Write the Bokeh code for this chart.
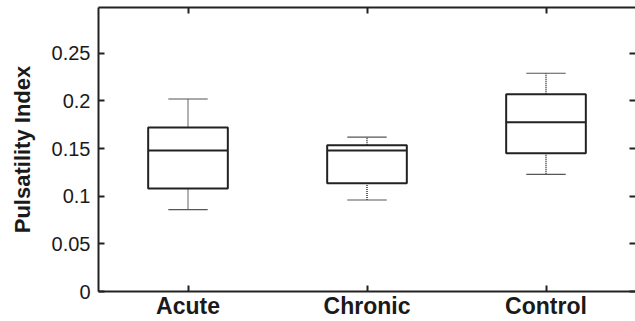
from bokeh.plotting import figure
from bokeh.models import FixedTicker, LinearAxis, Range1d, ColumnDataSource
from bokeh.embed import file_html
from bokeh.resources import INLINE

categories = ["Acute", "Chronic", "Control"]
lower_whisker = [0.086, 0.096, 0.123]
q1 = [0.108, 0.1135, 0.145]
median = [0.148, 0.148, 0.1775]
q3 = [0.172, 0.1535, 0.207]
upper_whisker = [0.202, 0.162, 0.229]
y_ticks = [0, 0.05, 0.1, 0.15, 0.2, 0.25]

xs = list(range(1, len(categories) + 1))
box_w = 0.445
cap_w = 0.22

src = ColumnDataSource(dict(
    x=xs, lo=lower_whisker, q1=q1, med=median, q3=q3, hi=upper_whisker,
    bl=[x - box_w / 2 for x in xs], br=[x + box_w / 2 for x in xs],
    cl=[x - cap_w / 2 for x in xs], cr=[x + cap_w / 2 for x in xs],
))

p = figure(width=635, height=321, output_backend="svg", toolbar_location=None,
           x_range=Range1d(0.5, 3.5), y_range=Range1d(0, 0.298),
           min_border_left=98, min_border_right=0, min_border_top=7, min_border_bottom=28,
           x_axis_location=None, y_axis_location=None)
p.outline_line_color = None
p.xgrid.visible = False
p.ygrid.visible = False
p.background_fill_color = "white"
p.border_fill_color = "white"

FONT = "Liberation Sans"

def style(ax):
    ax.axis_line_color = "#222222"
    ax.axis_line_width = 2
    ax.major_tick_line_color = "#222222"
    ax.major_tick_line_width = 2
    ax.major_tick_in = 6
    ax.major_tick_out = 0
    ax.minor_tick_line_color = None
    ax.major_label_text_font = FONT
    ax.major_label_text_color = "#1a1a1a"
    ax.axis_label_text_font = FONT
    ax.axis_label_text_color = "#1a1a1a"

left = LinearAxis(ticker=FixedTicker(ticks=y_ticks))
style(left)
left.major_label_overrides = {0: "0"}
left.major_label_text_font_size = "20px"
left.major_label_standoff = 8
left.axis_label = "Pulsatility Index"
left.axis_label_text_font_style = "bold"
left.axis_label_text_font_size = "22px"
left.axis_label_standoff = 14
p.add_layout(left, "left")

right = LinearAxis(ticker=FixedTicker(ticks=y_ticks))
style(right)
right.axis_line_color = None
right.major_label_overrides = {t: "" for t in y_ticks}
right.major_label_standoff = 0
p.add_layout(right, "right")

bottom = LinearAxis(ticker=FixedTicker(ticks=xs))
style(bottom)
bottom.major_label_overrides = {x: c for x, c in zip(xs, categories)}
bottom.major_label_text_font_size = "23px"
bottom.major_label_text_font_style = "bold"
bottom.major_label_standoff = 1
p.add_layout(bottom, "below")

top = LinearAxis(ticker=FixedTicker(ticks=xs))
style(top)
top.major_label_overrides = {x: "" for x in xs}
top.major_label_standoff = 0
p.add_layout(top, "above")

# whiskers (dotted)
p.segment(x0="x", y0="q3", x1="x", y1="hi", source=src, line_color="#333333",
          line_width=1.5, line_dash="1 1")
p.segment(x0="x", y0="lo", x1="x", y1="q1", source=src, line_color="#333333",
          line_width=1.5, line_dash="1 1")
# caps
p.segment(x0="cl", y0="hi", x1="cr", y1="hi", source=src, line_color="#555555", line_width=1.2)
p.segment(x0="cl", y0="lo", x1="cr", y1="lo", source=src, line_color="#555555", line_width=1.2)
# boxes
p.quad(left="bl", right="br", bottom="q1", top="q3", source=src,
       fill_color=None, line_color="#222222", line_width=2)
# medians
p.segment(x0="bl", y0="med", x1="br", y1="med", source=src, line_color="#222222", line_width=2)

open("out.html", "w").write(file_html(p, INLINE))
